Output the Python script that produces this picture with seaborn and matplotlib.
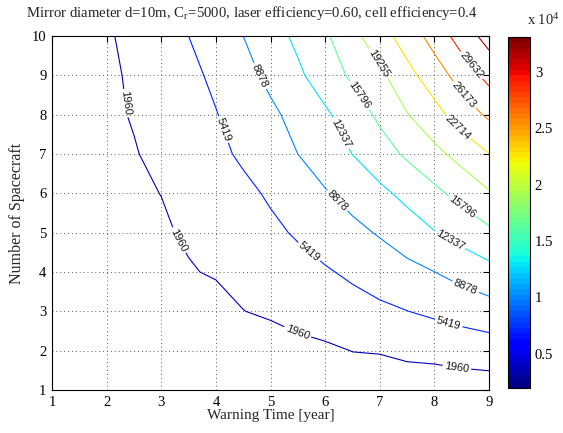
import numpy as np
import matplotlib
matplotlib.use("Agg")
import matplotlib.pyplot as plt
import seaborn as sns
from matplotlib.colors import Normalize
from matplotlib.cm import ScalarMappable

# ========================
# Data
# ========================
warning_time = [1, 1.5, 2, 2.5, 3, 3.5, 4, 4.5, 5, 5.5, 6, 6.5, 7, 7.5, 8, 8.5, 9]
spacecraft = [1, 2, 3, 4, 5, 6, 7, 8, 9, 10]

# one row per number of spacecraft, one value per warning time
n01 = [20, 25, 30, 35, 40, 45, 50, 60, 80, 110, 140, 175, 190, 205, 220, 235, 250]
n02 = [60, 70, 80, 90, 100, 120, 140, 170, 200, 1060, 1430, 2015, 2135, 2643, 2856, 3371, 3742]
n03 = [130, 170, 220, 280, 350, 450, 612, 1905, 2481, 3059, 3638, 4216, 4795, 5373, 6042, 6719, 7396]
n04 = [180, 400, 650, 950, 1250, 1720, 2297, 3000, 3703, 4406, 5109, 5960, 6926, 7892, 8858, 10052, 11249]
n05 = [200, 480, 800, 1150, 1560, 2370, 3189, 4009, 4828, 5733, 6856, 7980, 9179, 10683, 12187, 13633, 15074]
n06 = [250, 560, 1000, 1500, 1997, 2912, 3827, 4742, 5785, 7191, 8597, 10081, 11585, 13229, 15012, 16926, 18944]
n07 = [280, 620, 1200, 1770, 2751, 3739, 4728, 5870, 7374, 8878, 10625, 12376, 14342, 16319, 18330, 20442, 22641]
n08 = [300, 700, 1350, 2168, 3210, 4252, 5294, 6731, 8222, 9931, 11811, 14020, 16435, 19096, 21545, 24380, 26743]
n09 = [350, 780, 1400, 2392, 3530, 4668, 6019, 7784, 9670, 11753, 14043, 16365, 18554, 21655, 24521, 27621, 30711]
n10 = [400, 900, 1620, 2758, 4089, 5419, 7149, 8878, 10937, 13047, 15264, 18324, 21296, 24286, 27503, 31189, 34430]

levels = [1960, 5419, 8878, 12337, 15796, 19255, 22714, 26173, 29632, 33091]

cbar_ticks = [5000, 10000, 15000, 20000, 25000, 30000]
cbar_labels = ["0.5", "1", "1.5", "2", "2.5", "3"]

# where the inline labels sit
label_spots = [
    (2.34, 8.29), (3.31, 4.80), (5.48, 2.42), (8.41, 1.56),
    (4.19, 7.65), (5.71, 4.52), (8.27, 2.74),
    (4.84, 9.01), (6.25, 5.85), (8.56, 3.58),
    (6.32, 7.55), (8.29, 4.83),
    (6.60, 8.46), (8.45, 5.55),
    (7.00, 9.33), (8.40, 7.65), (8.50, 8.44), (8.61, 9.18),
]

Z = np.array([n01, n02, n03, n04, n05, n06, n07, n08, n09, n10])
X, Y = np.meshgrid(warning_time, spacecraft)

# ========================
# Style
# ========================
sns.set_theme(style="white")
plt.rcParams["font.family"] = ["Liberation Serif", "DejaVu Serif"]
plt.rcParams["mathtext.fontset"] = "stix"
plt.rcParams["axes.edgecolor"] = "black"
plt.rcParams["axes.linewidth"] = 0.8

jet = matplotlib.colormaps["jet"].resampled(64)
line_norm = Normalize(vmin=0, vmax=Z.max())        # line colours follow the data range
bar_norm = Normalize(vmin=levels[0], vmax=levels[-1])  # colour bar spans the levels

fig = plt.figure(figsize=(5.63, 4.33), dpi=100)
ax = fig.add_axes([52 / 563, 43 / 433, 437 / 563, 354 / 433])
cax = fig.add_axes([508 / 563, 45 / 433, 22 / 563, 351 / 433])

cs = ax.contour(X, Y, Z, levels=levels, cmap=jet, norm=line_norm, linewidths=0.8)
with plt.rc_context({"font.family": ["Liberation Sans", "DejaVu Sans"]}):
    ax.clabel(cs, levels[:-1], manual=label_spots, inline=True, fmt="%d",
              fontsize=8, colors="k", inline_spacing=2)

ax.set_xlim(1, 9)
ax.set_ylim(1, 10)
ax.set_xticks(range(1, 10))
ax.set_yticks(range(1, 11))
ax.tick_params(direction="in", top=True, right=True, length=4, width=0.8,
               labelsize=10.5, colors="black", pad=4)
ax.grid(True, color="0.35", linestyle=(0, (1, 3)), linewidth=0.7)
ax.set_xlabel("Warning Time [year]", fontsize=11, labelpad=0)
ax.set_ylabel("Number of Spacecraft", fontsize=11.5, labelpad=5)

fig.text(252 / 563, 1 - 13 / 433,
         "Mirror diameter d=10m, C$_\\mathregular{r}$=5000, laser efficiency=0.60, cell efficiency=0.4",
         ha="center", va="center", fontsize=10.6)

sm = ScalarMappable(norm=bar_norm, cmap=jet)
cb = fig.colorbar(sm, cax=cax, ticks=cbar_ticks)
cb.ax.set_yticklabels(cbar_labels)
cb.outline.set_linewidth(0.8)
cb.outline.set_edgecolor("black")
cax.tick_params(direction="in", left=True, right=True, length=4, width=0.8,
                labelsize=10.5, colors="black")
fig.text(527 / 563, 1 - 20 / 433, "x 10$^\\mathregular{4}$", ha="left", va="center", fontsize=10.5)

fig.savefig("out.png", dpi=100)
